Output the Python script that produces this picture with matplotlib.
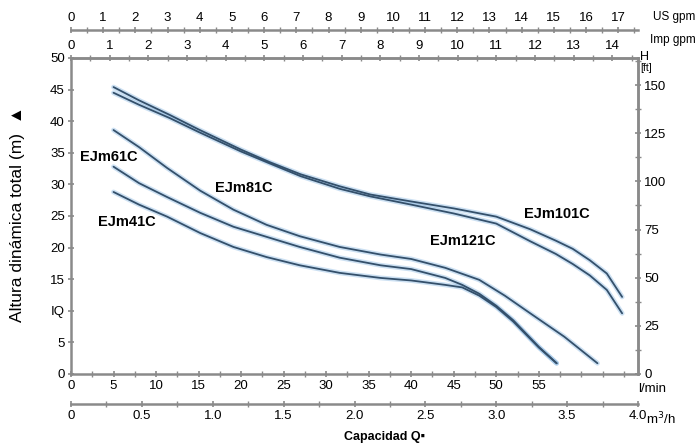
import matplotlib.pyplot as plt
from matplotlib.ticker import MultipleLocator

plt.rcParams['font.family'] = ['Liberation Sans Narrow', 'Liberation Sans', 'DejaVu Sans']

# caudal (l/min) y altura (m)
q_top = [5, 8, 11.6, 15, 20, 23.4, 27, 31.6, 35.2, 40, 45, 50, 54, 57, 59, 61, 63, 64.8]
h_101 = [45.4, 43.3, 41.0, 38.7, 35.5, 33.5, 31.6, 29.7, 28.4, 27.3, 26.2, 24.9, 22.9, 21.1, 19.8, 18.0, 15.9, 12.2]
h_121 = [44.5, 42.6, 40.5, 38.3, 35.2, 33.3, 31.3, 29.3, 28.1, 26.8, 25.4, 23.8, 21.0, 19.0, 17.4, 15.6, 13.3, 9.6]

q_81 = [5, 8, 11.3, 15.2, 19.1, 23, 26.9, 31.6, 36.4, 40, 44, 48, 51, 54, 58, 61.9]
h_81 = [38.6, 35.9, 32.6, 29.0, 26.0, 23.6, 21.8, 20.1, 18.9, 18.2, 16.8, 14.9, 12.4, 9.6, 5.9, 1.7]

q_low = [5, 8, 11.3, 15.2, 19.1, 23, 26.9, 31.6, 36.4, 40, 44, 46, 48, 50, 52, 55, 57.1]
h_61 = [32.8, 30.2, 28.0, 25.5, 23.3, 21.7, 20.1, 18.4, 17.2, 16.6, 15.2, 14.1, 12.7, 10.8, 8.5, 4.3, 1.7]
h_41 = [28.8, 26.8, 24.9, 22.3, 20.1, 18.5, 17.2, 16.0, 15.2, 14.8, 14.1, 13.7, 12.4, 10.6, 8.3, 4.2, 1.7]

modelos = ['EJm61C', 'EJm41C', 'EJm81C', 'EJm121C', 'EJm101C']
pos_q = [4.4, 6.6, 20.3, 46.1, 57.1]
pos_h = [34.3, 24.0, 29.4, 21.0, 25.3]

h_ticks = [0, 5, 10, 15, 20, 25, 30, 35, 40, 45, 50]
h_labels = ['0', '5', 'IQ', '15', '20', '25', '30', '35', '40', '45', '50']
lmin_ticks = [0, 5, 10, 15, 20, 25, 30, 35, 40, 45, 50, 55]
m3h_ticks = [0, 0.5, 1.0, 1.5, 2.0, 2.5, 3.0, 3.5, 4.0]
m3h_labels = ['0', '0.5', '1.0', '1.5', '2.0', '2.5', '3.0', '3.5', '4.0']
us_ticks = list(range(18))
imp_ticks = list(range(15))
ft_ticks = [0, 25, 50, 75, 100, 125, 150]

LPM_US = 3.785
LPM_IMP = 4.546
M_FT = 0.3048
Q_MAX = 4.0 * 1000 / 60

gris = '#8a8a8a'
W, H = 697, 446


def px(x, y):
    return x / W, 1 - y / H


def estilo(a):
    for s in a.spines.values():
        s.set_color(gris)
        s.set_linewidth(1.8)
    a.tick_params(which='both', direction='inout', color=gris, labelsize=9.5, pad=2)
    a.tick_params(which='major', length=5, width=1.2)
    a.tick_params(which='minor', length=4, width=1)


fig = plt.figure(figsize=(W / 100, H / 100), dpi=100)
ax = fig.add_axes([71 / W, 1 - 374 / H, 567 / W, 316 / H])

for q, h in [(q_top, h_101), (q_top, h_121), (q_81, h_81), (q_low, h_61), (q_low, h_41)]:
    ax.plot(q, h, color='#6fa8dc', lw=3.5, alpha=0.35, solid_capstyle='round', zorder=2)
    ax.plot(q, h, color='#34506b', lw=1.3, solid_capstyle='round', solid_joinstyle='round', zorder=3)

for nombre, q, h in zip(modelos, pos_q, pos_h):
    ax.text(q, h, nombre, ha='center', va='center', fontsize=10.5, fontweight='bold',
            family=['Liberation Sans', 'DejaVu Sans'], zorder=4)

ax.set_xlim(0, Q_MAX)
ax.set_ylim(0, 50)
estilo(ax)
ax.set_yticks(h_ticks)
ax.set_yticklabels(h_labels)
ax.set_xticks(lmin_ticks)
ax.xaxis.set_minor_locator(MultipleLocator(2.5))
ax.tick_params(top=False, right=False)

# Imp gpm arriba
imp = ax.secondary_xaxis('top', functions=(lambda q: q / LPM_IMP, lambda g: g * LPM_IMP))
estilo(imp)
imp.set_xticks(imp_ticks)
imp.xaxis.set_minor_locator(MultipleLocator(0.5))

# US gpm
us = ax.secondary_xaxis(1.0886, functions=(lambda q: q / LPM_US, lambda g: g * LPM_US))
estilo(us)
us.set_xticks(us_ticks)
us.xaxis.set_minor_locator(MultipleLocator(0.5))

# m3/h
m3 = ax.secondary_xaxis(-0.0949, functions=(lambda q: q * 0.06, lambda m: m / 0.06))
estilo(m3)
m3.set_xticks(m3h_ticks)
m3.set_xticklabels(m3h_labels)
m3.xaxis.set_minor_locator(MultipleLocator(0.25))

# pies a la derecha
ft = ax.secondary_yaxis('right', functions=(lambda h: h / M_FT, lambda f: f * M_FT))
estilo(ft)
ft.set_yticks(ft_ticks)
ft.yaxis.set_minor_locator(MultipleLocator(12.5))

fig.text(*px(653, 17), 'US gpm', ha='left', va='center', fontsize=8.5)
fig.text(*px(650, 40), 'Imp gpm', ha='left', va='center', fontsize=8.5)
fig.text(*px(640, 57), 'H', ha='left', va='center', fontsize=9)
fig.text(*px(640, 68), '[ft]', ha='left', va='center', fontsize=7.5)
fig.text(*px(638, 389), 'l/min', ha='left', va='center', fontsize=9.5)
fig.text(*px(646, 419), 'm$^3$/h', ha='left', va='center', fontsize=9.5)
fig.text(*px(385, 437), 'Capacidad Q\u25aa', ha='center', va='center', fontsize=9,
         fontweight='bold', family=['Liberation Sans', 'DejaVu Sans'])
fig.text(*px(18, 214), 'Altura din\u00e1mica total (m)  \u25b2', ha='center', va='center',
         rotation=90, fontsize=12.5, family=['Liberation Sans', 'DejaVu Sans'])

fig.savefig('out.png', dpi=100)
